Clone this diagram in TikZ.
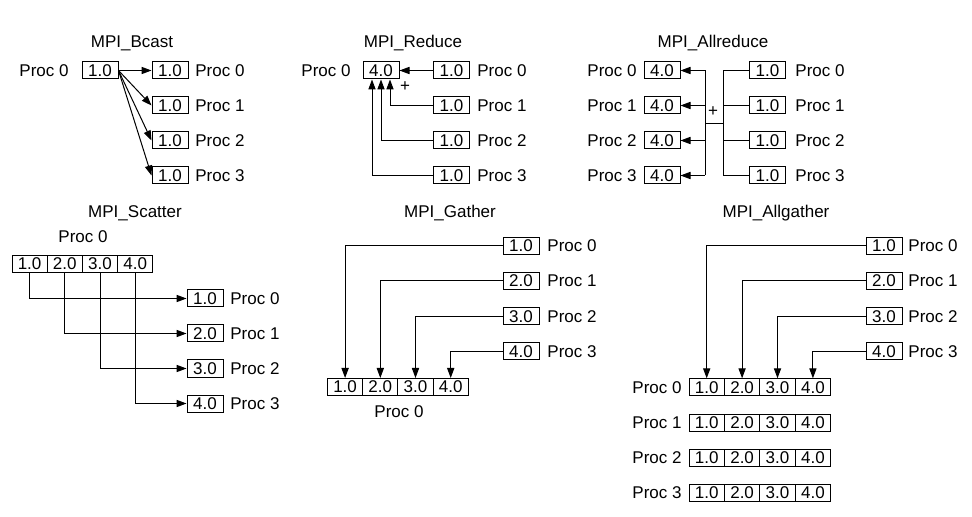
\documentclass[tikz,border=0pt]{standalone}
\usepackage{fontspec}
\setmainfont{Liberation Sans}
\usetikzlibrary{arrows.meta,calc}
\begin{document}
\begin{tikzpicture}[x=0.5pt,y=-0.5pt,
  every node/.style={font=\fontsize{8.5pt}{10pt}\selectfont, inner sep=0pt},
  val/.style={draw, line width=0.5pt, minimum width=18pt, minimum height=8.5pt},
  cell/.style={draw, line width=0.5pt, minimum width=17.6pt, minimum height=8.5pt},
  lbl/.style={anchor=west},
  rlbl/.style={anchor=east},
  wire/.style={line width=0.5pt},
  arr/.style={wire, -{Triangle[length=5pt,width=3.6pt]}},
]
\useasboundingbox (0,0) rectangle (972,517);

% ---------------- MPI_Bcast ----------------
\node (bcT) at (132,43) {MPI\_Bcast};
\node[rlbl] (bcP) at (69,70.5) {Proc 0};
\node[val] (bs) at (100,70.5) {1.0};
\foreach \i/\y in {0/70.5,1/105.5,2/140.5,3/175.5} {
  \node[val] (bd\i) at (170,\y) {1.0};
  \node[lbl] (bdL\i) at (195,\y) {Proc \i};
  \draw[arr] (bs.east) -- (bd\i.west);
}

% ---------------- MPI_Reduce ----------------
\node (rdT) at (413,43) {MPI\_Reduce};
\node[rlbl] (rdP) at (351,70.5) {Proc 0};
\node[val] (rt) at (381,70.5) {4.0};
\foreach \i/\y in {0/70.5,1/105.5,2/140.5,3/175.5} {
  \node[val] (rs\i) at (451.5,\y) {1.0};
  \node[lbl] (rsL\i) at (477,\y) {Proc \i};
}
\draw[arr] (rs0.west) -- (rt.east);
\draw[arr] (rs1.west) -| ($(rt.south)+(9,0)$);
\draw[arr] (rs2.west) -| (rt.south);
\draw[arr] (rs3.west) -| ($(rt.south)+(-9,0)$);
\node (rdPlus) at (405,87) {+};

% ---------------- MPI_Allreduce ----------------
\node (arT) at (713,43) {MPI\_Allreduce};
\foreach \i/\y in {0/70.5,1/105.5,2/140.5,3/175.5} {
  \node[val] (al\i) at (662,\y) {4.0};
  \node[rlbl] (alL\i) at (637,\y) {Proc \i};
  \node[val] (ar\i) at (767.5,\y) {1.0};
  \node[lbl] (arL\i) at (795,\y) {Proc \i};
}
\coordinate (busL) at (705,123.3);
\coordinate (busR) at (723.3,123.3);
\draw[wire] (busL |- al0.east) -- (busL |- al3.east);
\draw[wire] (busR |- ar0.west) -- (busR |- ar3.west);
\draw[wire] (busL) -- (busR);
\foreach \i in {0,1,2,3} {
  \draw[arr] (busL |- al\i.east) -- (al\i.east);
  \draw[wire] (busR |- ar\i.west) -- (ar\i.west);
}
\node (arPlus) at (713,111.7) {+};

% ---------------- MPI_Scatter ----------------
\node (scT) at (135,213) {MPI\_Scatter};
\node (scP) at (83,237) {Proc 0};
\foreach \i/\x/\v in {0/29.6/1.0,1/64.8/2.0,2/100/3.0,3/135.2/4.0} {
  \node[cell] (sc\i) at (\x,263.7) {\v};
}
\foreach \i/\y/\v in {0/298.5/1.0,1/333.5/2.0,2/368.5/3.0,3/403.5/4.0} {
  \node[val] (sd\i) at (205,\y) {\v};
  \node[lbl] (sdL\i) at (230,\y) {Proc \i};
  \draw[arr] (sc\i.south) |- (sd\i.west);
}

% ---------------- MPI_Gather ----------------
\node (gaT) at (450,213) {MPI\_Gather};
\foreach \i/\x/\v in {0/345.1/1.0,1/380.3/2.0,2/415.5/3.0,3/450.7/4.0} {
  \node[cell] (gc\i) at (\x,387) {\v};
}
\node (gaP) at (399,412) {Proc 0};
\foreach \i/\y/\v in {0/246/1.0,1/281/2.0,2/316.5/3.0,3/351.5/4.0} {
  \node[val] (gs\i) at (521,\y) {\v};
  \node[lbl] (gsL\i) at (547,\y) {Proc \i};
  \draw[arr] (gs\i.west) -| (gc\i.north);
}

% ---------------- MPI_Allgather ----------------
\node (agT) at (776,213) {MPI\_Allgather};
\foreach \r/\y in {0/387.3,1/422.5,2/457.5,3/492.5} {
  \node[rlbl] (agL\r) at (682,\y) {Proc \r};
  \foreach \i/\x/\v in {0/706.7/1.0,1/742.1/2.0,2/777.5/3.0,3/812.9/4.0} {
    \node[cell] (ag\r\i) at (\x,\y) {\v};
  }
}
\foreach \i/\y/\v in {0/246/1.0,1/281/2.0,2/316.5/3.0,3/351.5/4.0} {
  \node[val] (as\i) at (884,\y) {\v};
  \node[lbl] (asL\i) at (908,\y) {Proc \i};
  \draw[arr] (as\i.west) -| (ag0\i.north);
}
\end{tikzpicture}
\end{document}
